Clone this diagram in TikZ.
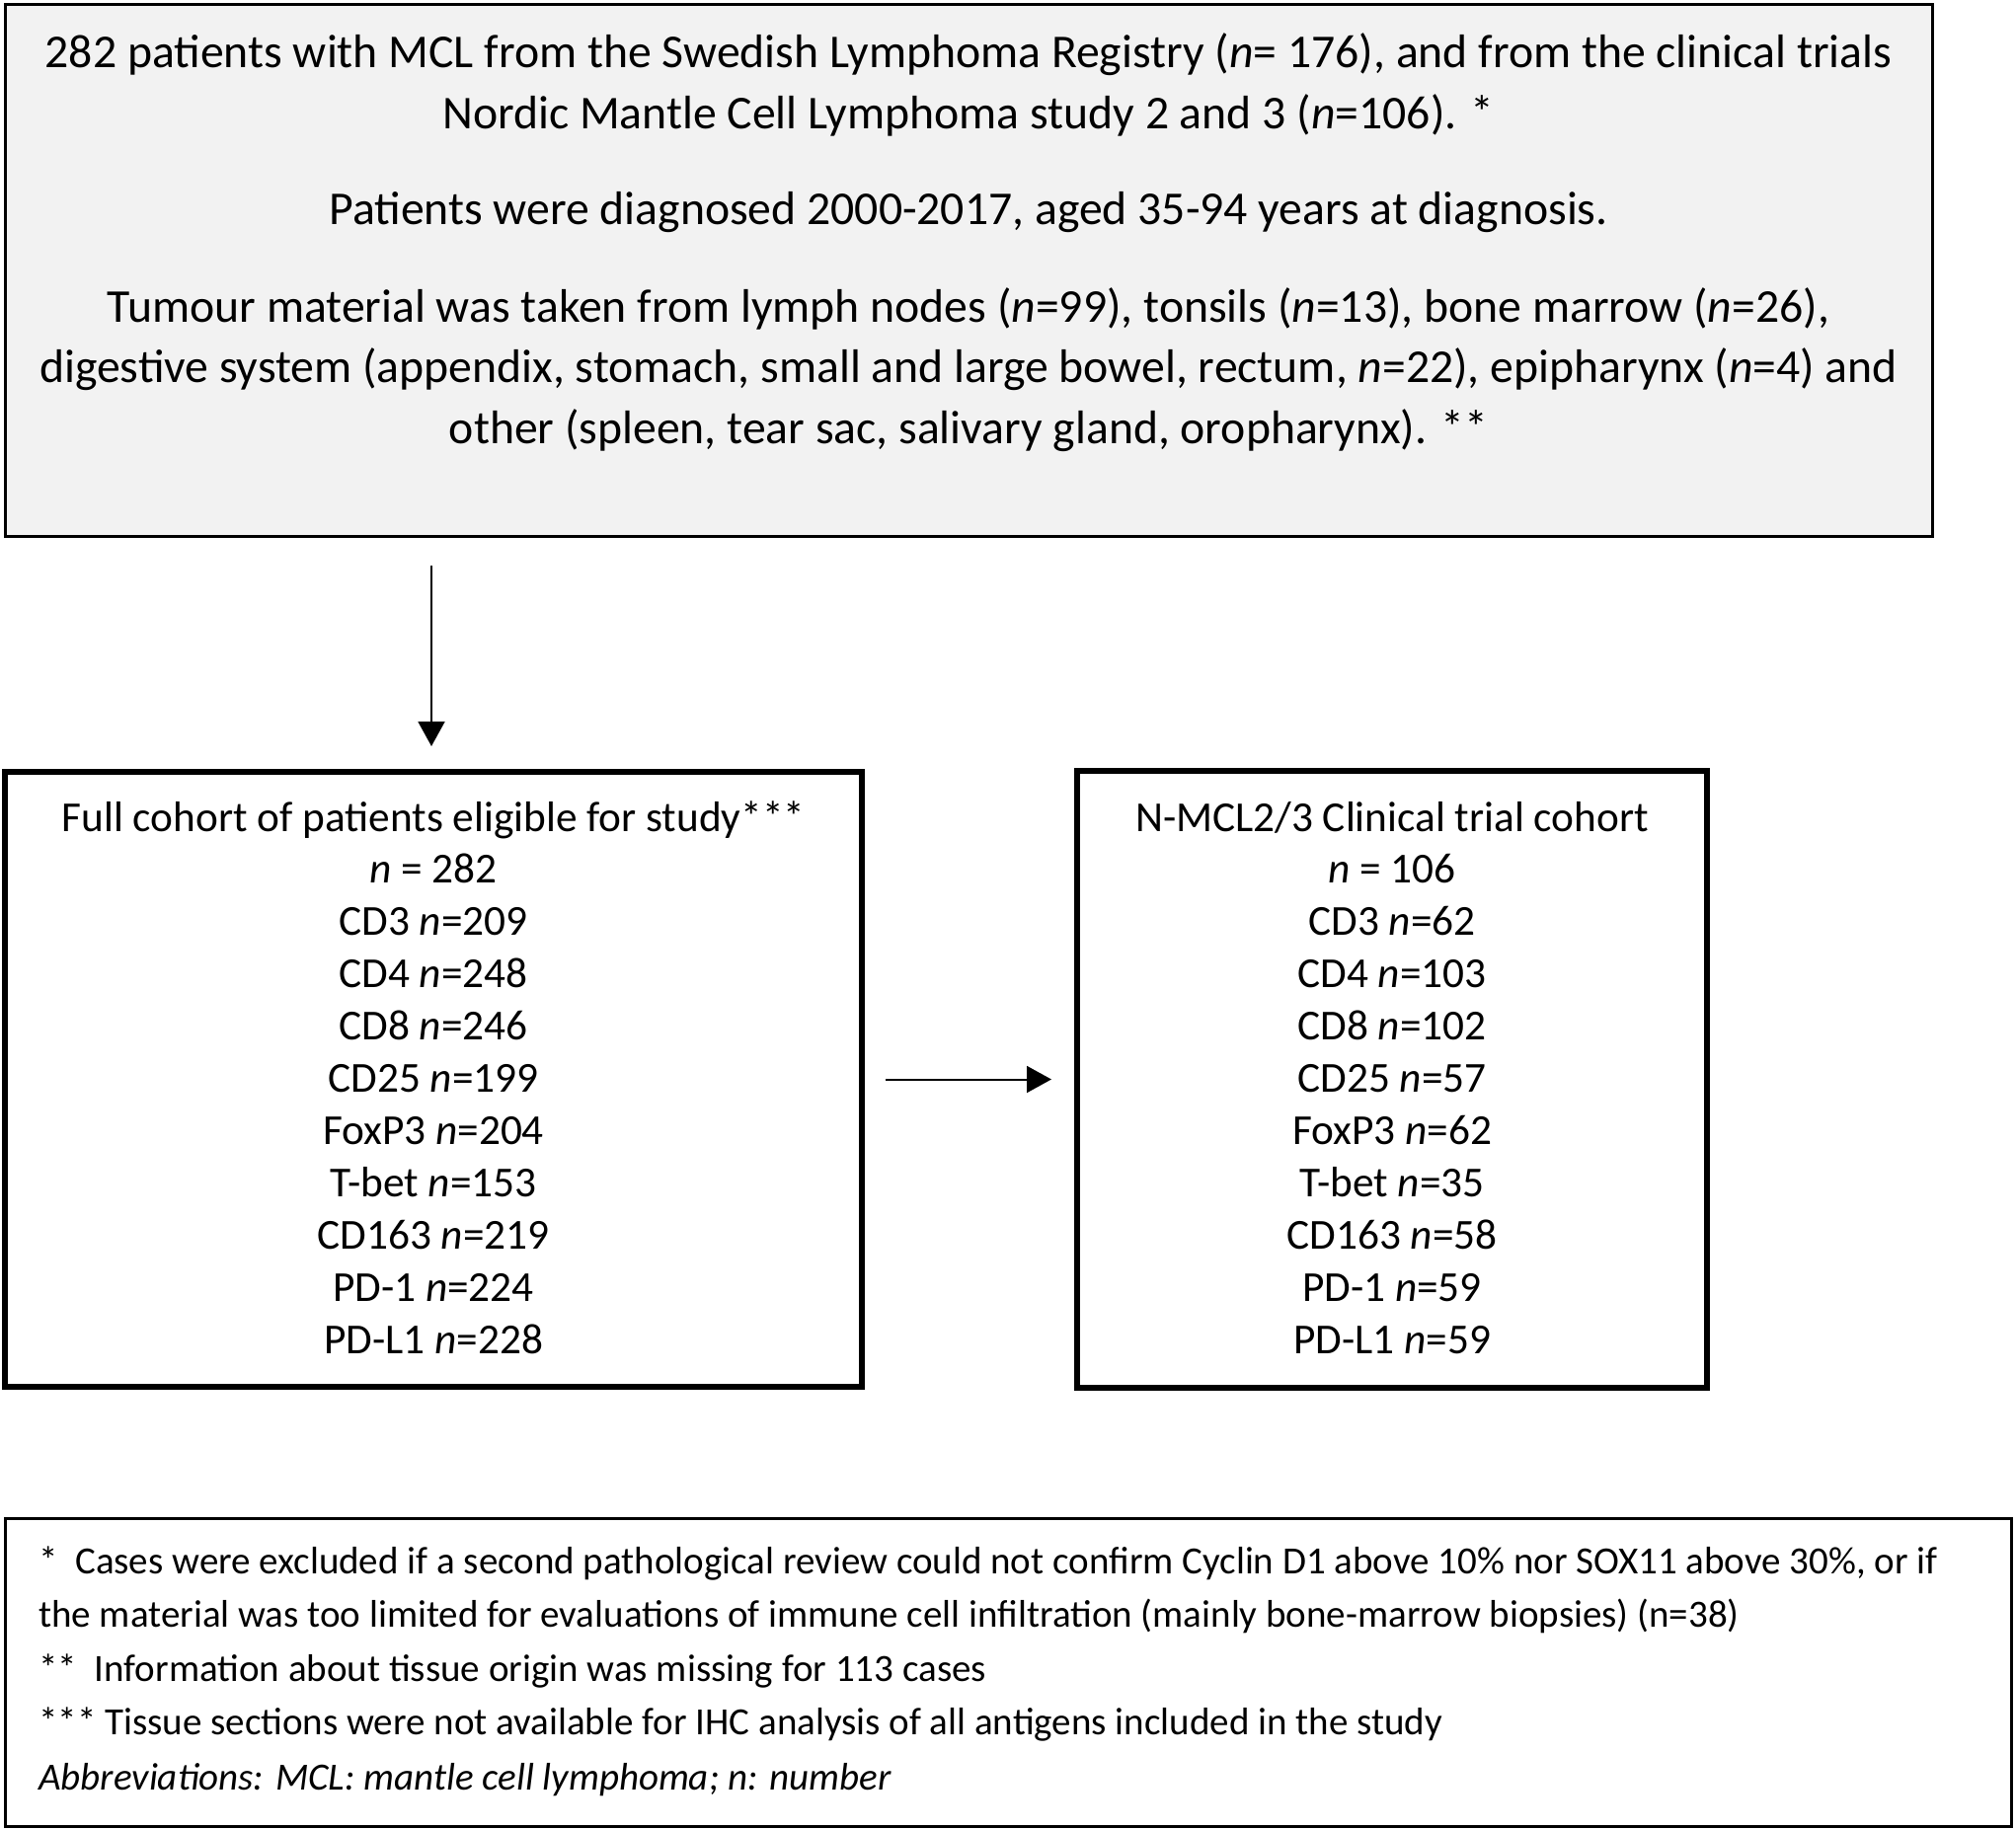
\documentclass[tikz,border=0pt]{standalone}
\usepackage{fontspec}
\setmainfont{Carlito}
\usetikzlibrary{arrows.meta}
\definecolor{boxgray}{HTML}{F2F2F2}
\begin{document}
\begin{tikzpicture}[x=1bp,y=-1bp,
  thinbox/.style={draw=black, line width=3bp, rectangle, inner sep=0pt, outer sep=0pt, anchor=north west},
  thickbox/.style={draw=black, line width=6.5bp, rectangle, inner sep=0pt, outer sep=0pt, anchor=north west},
  topline/.style={anchor=base, inner sep=0pt, font=\fontsize{47.7bp}{57bp}\selectfont},
  mainline/.style={anchor=base, inner sep=0pt, font=\fontsize{43.3bp}{52bp}\selectfont},
  noteline/.style={anchor=base west, inner sep=0pt, font=\fontsize{39bp}{47bp}\selectfont},
  arr/.style={line width=2bp, -{Triangle[width=27bp,length=25bp]}}]
\useasboundingbox (0,0) rectangle (2042,1854);
% boxes
\node[thinbox, fill=boxgray, minimum width=1952bp, minimum height=539bp] (top) at (5,4) {};
\node[thickbox, minimum width=868bp, minimum height=623bp] (left) at (5,782) {};
\node[thickbox, minimum width=638bp, minimum height=625bp] (right) at (1091,781) {};
\node[thinbox, minimum width=2032bp, minimum height=312bp] (notes) at (5,1538) {};
% top box text
\node[topline] (t1) at (981,68) {282 patients with MCL from the Swedish Lymphoma Registry (\textit{n}= 176), and from the clinical trials};
\node[topline] (t2) at (981,130) {Nordic Mantle Cell Lymphoma study 2 and 3 (\textit{n}=106). *};
\node[topline] (t3) at (981,227) {Patients were diagnosed 2000-2017, aged 35-94 years at diagnosis.};
\node[topline] (t4) at (981,326) {Tumour material was taken from lymph nodes (\textit{n}=99), tonsils (\textit{n}=13), bone marrow (\textit{n}=26),};
\node[topline] (t5) at (981,387) {digestive system (appendix, stomach, small and large bowel, rectum, \textit{n}=22), epipharynx (\textit{n}=4) and};
\node[topline] (t6) at (981,449) {other (spleen, tear sac, salivary gland, oropharynx). **};
% left box text
\foreach \txt [count=\i] in {Full cohort of patients eligible for study***, \textit{n} = 282, CD3 \textit{n}=209, CD4 \textit{n}=248, CD8 \textit{n}=246, CD25 \textit{n}=199, FoxP3 \textit{n}=204, T-bet \textit{n}=153, CD163 \textit{n}=219, PD-1 \textit{n}=224, PD-L1 \textit{n}=228}
  \node[mainline] (l\i) at (439,{842+52.9*(\i-1)}) {\txt};
% right box text
\foreach \txt [count=\i] in {N-MCL2/3 Clinical trial cohort, \textit{n} = 106, CD3 \textit{n}=62, CD4 \textit{n}=103, CD8 \textit{n}=102, CD25 \textit{n}=57, FoxP3 \textit{n}=62, T-bet \textit{n}=35, CD163 \textit{n}=58, PD-1 \textit{n}=59, PD-L1 \textit{n}=59}
  \node[mainline] (r\i) at (1410,{842+52.9*(\i-1)}) {\txt};
% footnotes
\node[noteline] (n1) at (39,1594) {*\ \ Cases were excluded if a second pathological review could not confirm Cyclin D1 above 10\% nor SOX11 above 30\%, or if};
\node[noteline] (n2) at (39,1648) {the material was too limited for evaluations of immune cell infiltration (mainly bone-marrow biopsies) (n=38)};
\node[noteline] (n3) at (39,1703) {**\ \ Information about tissue origin was missing for 113 cases};
\node[noteline] (n4) at (39,1757) {*** Tissue sections were not available for IHC analysis of all antigens included in the study};
\node[noteline] (n5) at (39,1813) {\textit{Abbreviations: MCL: mantle cell lymphoma; n: number}};
% arrows
\draw[arr, shorten <=30bp, shorten >=26bp] (top.south -| 437,0) -- (left.north -| 437,0);
\draw[arr, shorten <=24bp, shorten >=26bp] (left.east) -- (left.east -| right.west);
\end{tikzpicture}
\end{document}
